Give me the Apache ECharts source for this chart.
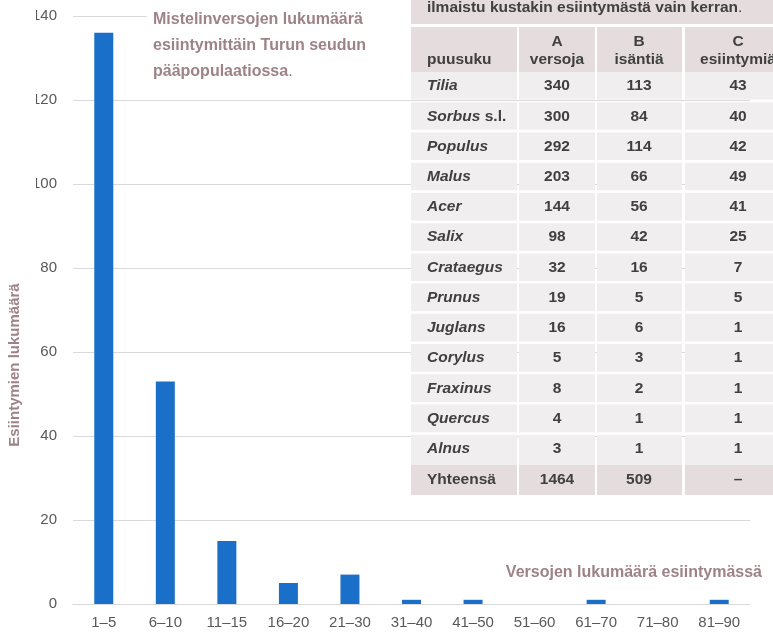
<!DOCTYPE html>
<html>
<head>
<meta charset="utf-8">
<script src="https://cdn.jsdelivr.net/npm/echarts@6/dist/echarts.min.js"></script>
<style>
html,body{margin:0;padding:0;background:#fff;}
#c{width:773px;height:632px;}
</style>
</head>
<body>
<div id="c"></div>
<script>
// ---- chart data ----
const categories = ['1–5','6–10','11–15','16–20','21–30','31–40','41–50','51–60','61–70','71–80','81–90'];
const counts = [136, 53, 15, 5, 7, 1, 1, 0, 1, 0, 1];
const yMin = 0, yMax = 140, yStep = 20;

// ---- table data ----
const tableCaption = 'ilmaistu kustakin esiintymästä vain kerran';
const headLetters = ['', 'A', 'B', 'C'];
const headWords = ['puusuku', 'versoja', 'isäntiä', 'esiintymiä'];
const genera = ['Tilia','Sorbus','Populus','Malus','Acer','Salix','Crataegus','Prunus','Juglans','Corylus','Fraxinus','Quercus','Alnus'];
const generaSuffix = ['', ' s.l.', '', '', '', '', '', '', '', '', '', '', ''];
const shoots = [340, 300, 292, 203, 144, 98, 32, 19, 16, 5, 8, 4, 3];
const hosts = [113, 84, 114, 66, 56, 42, 16, 5, 6, 3, 2, 1, 1];
const occurrences = [43, 40, 42, 49, 41, 25, 7, 5, 1, 1, 1, 1, 1];
const totalsRow = ['Yhteensä', '1464', '509', '–'];

const titleLines = ['Mistelinversojen lukumäärä', 'esiintymittäin Turun seudun', 'pääpopulaatiossa'];
const xName = 'Versojen lukumäärä esiintymässä';
const yName = 'Esiintymien lukumäärä';

const MAUVE = '#9d8387';
const TXT = '#404040';
const FONT = '"Liberation Sans", Arial, sans-serif';
const TF = 'bold 15.5px ' + FONT;

const chart = echarts.init(document.getElementById('c'), null, {renderer: 'canvas'});

// table layout
const colX = [411, 519, 597, 685];
const colW = [106, 76, 85, 110];
const colC = [427, 557, 639, 738];
const cellLight = '#f0eeee';
const cellDark = '#e4dcdd';
const g = [];

// white block behind title
g.push({type: 'rect', shape: {x: 147, y: 0, width: 264, height: 90}, style: {fill: '#fff'}, z: 50});
titleLines.forEach((t, i) => {
  g.push({type: 'text', z: 60, style: {
    text: i === 2 ? '{b|' + t + '}{p|.}' : t,
    x: 153, y: 20 + i * 26, verticalAlign: 'middle', align: 'left',
    font: 'bold 16px ' + FONT, fill: MAUVE,
    rich: {b: {font: 'bold 16px ' + FONT, fill: MAUVE}, p: {font: '16px ' + FONT, fill: '#7a7a7a'}}
  }});
});

// caption row
g.push({type: 'rect', z: 50, shape: {x: 411, y: -5, width: 380, height: 29}, style: {fill: cellDark}});
g.push({type: 'text', z: 60, style: {
  text: '{b|' + tableCaption + '}{p|.}', x: 427, y: 8, verticalAlign: 'middle',
  rich: {b: {font: TF, fill: TXT}, p: {font: '15.5px ' + FONT, fill: TXT}}
}});
// header row
for (let c = 0; c < 4; c++) {
  g.push({type: 'rect', z: 50, shape: {x: colX[c], y: 27, width: colW[c], height: 45}, style: {fill: cellDark}});
  if (c === 0) {
    g.push({type: 'text', z: 60, style: {text: headWords[c], x: colC[c], y: 60, verticalAlign: 'middle', font: TF, fill: TXT}});
  } else {
    g.push({type: 'text', z: 60, style: {text: headLetters[c], x: colC[c], y: 42, align: 'center', verticalAlign: 'middle', font: TF, fill: TXT}});
    g.push({type: 'text', z: 60, style: {text: headWords[c], x: colC[c], y: 60, align: 'center', verticalAlign: 'middle', font: TF, fill: TXT}});
  }
}
// data rows
const rowPitch = 30.23;
genera.forEach((gen, r) => {
  const top = 72 + r * rowPitch;
  const h = (r === genera.length - 1) ? 465 - top : 27.6;
  const vals = [null, shoots[r], hosts[r], occurrences[r]];
  for (let c = 0; c < 4; c++) {
    g.push({type: 'rect', z: 50, shape: {x: colX[c], y: top, width: colW[c], height: h}, style: {fill: cellLight}});
    if (c === 0) {
      g.push({type: 'text', z: 60, style: {
        text: '{i|' + gen + '}' + (generaSuffix[r] ? '{n|' + generaSuffix[r] + '}' : ''),
        x: colC[c], y: top + 14, verticalAlign: 'middle',
        rich: {i: {font: 'italic ' + TF, fill: TXT}, n: {font: TF, fill: TXT}}
      }});
    } else {
      g.push({type: 'text', z: 60, style: {text: String(vals[c]), x: colC[c], y: top + 14, align: 'center', verticalAlign: 'middle', font: TF, fill: TXT}});
    }
  }
});
// totals row
for (let c = 0; c < 4; c++) {
  g.push({type: 'rect', z: 50, shape: {x: colX[c], y: 465, width: colW[c], height: 30}, style: {fill: cellDark}});
  g.push({type: 'text', z: 60, style: {text: totalsRow[c], x: colC[c], y: 480, align: c === 0 ? 'left' : 'center', verticalAlign: 'middle', font: TF, fill: TXT}});
}

// axis names
g.push({type: 'text', z: 60, style: {text: xName, x: 762, y: 573, align: 'right', verticalAlign: 'middle', font: 'bold 16px ' + FONT, fill: MAUVE}});
g.push({type: 'text', z: 60, rotation: Math.PI / 2, x: 15, y: 365, style: {text: yName, x: 0, y: 0, align: 'center', verticalAlign: 'middle', font: 'bold 15px ' + FONT, fill: MAUVE}});
// cropped left edge
g.push({type: 'rect', z: 70, shape: {x: 0, y: 0, width: 36, height: 200}, style: {fill: '#fff'}});

chart.setOption({
  animation: false,
  backgroundColor: '#fff',
  grid: {left: 73, right: 23, top: 16, bottom: 28, containLabel: false},
  xAxis: {
    type: 'category', data: categories,
    axisLine: {show: true, lineStyle: {color: '#d9d9d9', width: 1}},
    axisTick: {show: false},
    axisLabel: {color: '#595959', fontSize: 15, fontFamily: FONT, margin: 11, interval: 0}
  },
  yAxis: {
    type: 'value', min: yMin, max: yMax, interval: yStep,
    axisLine: {show: false}, axisTick: {show: false},
    axisLabel: {color: '#595959', fontSize: 15, fontFamily: FONT, margin: 16},
    splitLine: {lineStyle: {color: '#d9d9d9', width: 1}}
  },
  series: [{
    type: 'bar', data: counts, barWidth: 19,
    itemStyle: {color: '#1a70c9'}
  }],
  graphic: g
});
</script>
</body>
</html>
